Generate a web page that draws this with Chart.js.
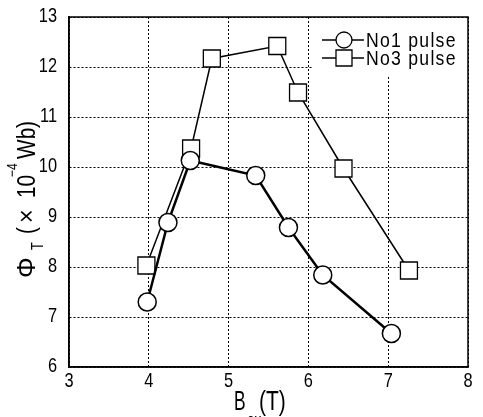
<!DOCTYPE html>
<html>
<head>
<meta charset="utf-8">
<script src="https://cdn.jsdelivr.net/npm/chart.js@4.4.1/dist/chart.umd.min.js"></script>
<style>
  html, body { margin: 0; padding: 0; background: #fff; }
  #wrap { width: 483px; height: 417px; }
</style>
</head>
<body>
<div id="wrap"><canvas id="c" width="483" height="417"></canvas></div>
<script>
const FAM = "'Liberation Sans', Arial, sans-serif";

// B_ex (T) and flux (x10^-4 Wb)
const no1X = [3.98, 4.24, 4.52, 5.34, 5.75, 6.18, 7.04];
const no1Y = [7.30, 8.89, 10.13, 9.83, 8.79, 7.84, 6.67];
const no3X = [3.97, 4.53, 4.79, 5.61, 5.87, 6.44, 7.26];
const no3Y = [8.03, 10.37, 12.17, 12.42, 11.49, 9.97, 7.93];
const seriesNames = ['No1 pulse', 'No3 pulse'];
const xTicks = [3, 4, 5, 6, 7, 8];
const yTicks = [6, 7, 8, 9, 10, 11, 12, 13];

const toPts = (xs, ys) => xs.map((x, i) => ({ x: x, y: ys[i] }));

// the original uses a tall condensed face, so squeeze Liberation Sans sideways
function narrowText(ctx, txt, x, y, size, sx, align, rot) {
  ctx.save();
  ctx.translate(x, y);
  if (rot) ctx.rotate(rot);
  ctx.scale(sx, 1);
  ctx.font = size + 'px ' + FAM;
  ctx.textAlign = align || 'left';
  ctx.fillText(txt, 0, 0);
  ctx.restore();
}

const decor = {
  id: 'decor',
  afterDatasetsDraw(chart) {
    const { ctx, chartArea: a, scales } = chart;
    ctx.save();
    ctx.strokeStyle = '#000';
    ctx.lineWidth = 1.5;
    ctx.strokeRect(a.left, a.top, a.right - a.left, a.bottom - a.top);

    // tick labels
    ctx.fillStyle = '#000';
    ctx.textBaseline = 'middle';
    xTicks.forEach(v => {
      narrowText(ctx, String(v), scales.x.getPixelForValue(v), a.bottom + 14, 21, 0.78, 'center');
    });
    yTicks.forEach(v => {
      narrowText(ctx, String(v), a.left - 12, scales.y.getPixelForValue(v) - 1, 21, 0.78, 'right');
    });

    // legend sits on a white patch in the top right corner
    ctx.fillStyle = '#fff';
    ctx.fillRect(312, a.top + 1, a.right - 313, 59);
    const rows = [40, 58];
    ctx.lineWidth = 1.3;
    rows.forEach((y, i) => {
      ctx.beginPath();
      ctx.moveTo(322, y); ctx.lineTo(364, y);
      ctx.stroke();
      ctx.beginPath();
      if (i === 0) ctx.arc(344, y, 8, 0, Math.PI * 2);
      else ctx.rect(336, y - 8, 16, 16);
      ctx.fillStyle = '#fff';
      ctx.fill();
      ctx.stroke();
      ctx.fillStyle = '#000';
      ctx.textBaseline = 'middle';
      ctx.letterSpacing = '1.5px';
      narrowText(ctx, seriesNames[i], 366, y + 1, 21, 0.84, 'left');
      ctx.letterSpacing = '0px';
    });

    // x title: B_ex (T)
    ctx.fillStyle = '#000';
    ctx.textBaseline = 'alphabetic';
    narrowText(ctx, 'B', 234, 410, 28, 0.62, 'left');
    narrowText(ctx, 'ex', 247, 425, 17, 0.8, 'left');
    narrowText(ctx, '(T)', 259, 410, 28, 0.75, 'left');

    // y title: Φ_T (×10^-4 Wb), rotated
    const up = -Math.PI / 2;
    narrowText(ctx, 'Φ', 35, 278, 26, 1, 'left', up);
    narrowText(ctx, 'T', 43, 250, 16, 0.8, 'left', up);
    narrowText(ctx, '(', 35, 234, 26, 0.8, 'left', up);
    narrowText(ctx, '×', 35, 223, 26, 0.9, 'left', up);
    narrowText(ctx, '10', 35, 198, 26, 0.8, 'left', up);
    narrowText(ctx, '−4', 17, 177, 15, 0.8, 'left', up);
    narrowText(ctx, 'Wb', 35, 159, 26, 0.8, 'left', up);
    narrowText(ctx, ')', 35, 128, 26, 0.8, 'left', up);
    ctx.restore();
  }
};

new Chart(document.getElementById('c'), {
  type: 'scatter',
  data: {
    datasets: [
      {
        label: seriesNames[0],
        data: toPts(no1X, no1Y),
        showLine: true,
        borderColor: '#000',
        borderWidth: 2.5,
        pointStyle: 'circle',
        pointRadius: 9,
        pointBorderWidth: 1.5,
        pointBackgroundColor: '#fff',
        pointBorderColor: '#000'
      },
      {
        label: seriesNames[1],
        data: toPts(no3X, no3Y),
        showLine: true,
        borderColor: '#000',
        borderWidth: 1.5,
        pointStyle: 'rect',
        pointRadius: 12,
        pointBorderWidth: 1.3,
        pointBackgroundColor: '#fff',
        pointBorderColor: '#000'
      }
    ]
  },
  options: {
    responsive: false,
    animation: false,
    layout: { padding: { left: 0, right: 15, top: 17, bottom: 0 } },
    plugins: { legend: { display: false }, tooltip: { enabled: false } },
    scales: {
      x: {
        type: 'linear', min: 3, max: 8,
        afterBuildTicks: s => { s.ticks = xTicks.map(v => ({ value: v })); },
        afterFit: s => { s.height = 50; },
        ticks: { display: false },
        grid: { color: '#000', lineWidth: 1, drawTicks: false },
        border: { color: '#000', width: 1.5, dash: [2, 2] }
      },
      y: {
        type: 'linear', min: 6, max: 13,
        afterBuildTicks: s => { s.ticks = yTicks.map(v => ({ value: v })); },
        afterFit: s => { s.width = 69; },
        ticks: { display: false },
        grid: { color: '#000', lineWidth: 1, drawTicks: false },
        border: { color: '#000', width: 1.5, dash: [2, 2] }
      }
    }
  },
  plugins: [decor]
});
</script>
</body>
</html>
